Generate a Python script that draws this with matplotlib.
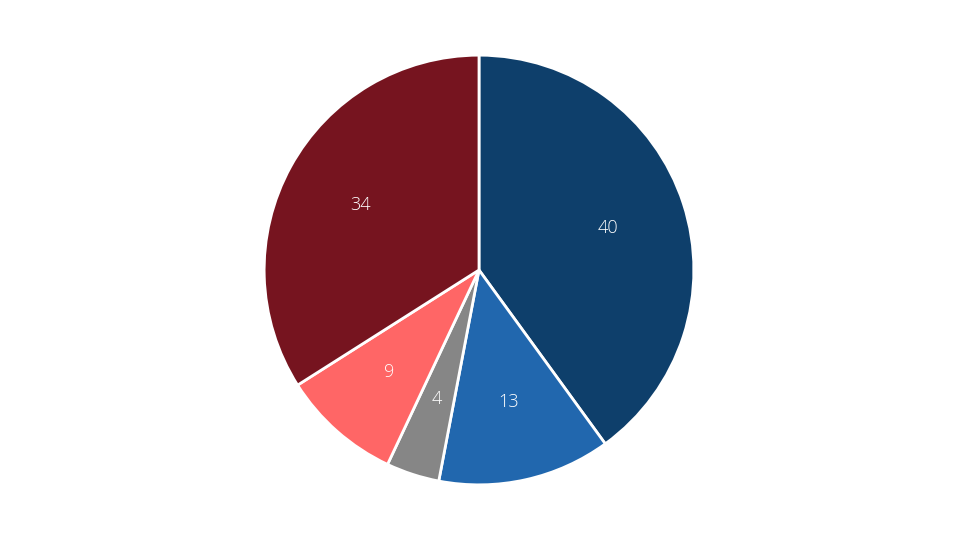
import matplotlib.pyplot as plt

values = [40, 13, 4, 9, 34]
labels = ["40", "13", "4", "9", "34"]
colors = ["#0e3f6b", "#2167ae", "#868686", "#ff6666", "#76141f"]

fig = plt.figure(figsize=(9.6, 5.4), dpi=100)
ax = fig.add_axes([(479 - 217) / 960, (270 - 217) / 540, 434 / 960, 434 / 540])
wedges, texts = ax.pie(values, colors=colors, startangle=90, counterclock=False,
                       labels=labels, labeldistance=0.63,
                       wedgeprops=dict(edgecolor="white", linewidth=2),
                       textprops=dict(color="white", fontsize=13,
                                      family="Open Sans", fontweight="light"))
for t in texts:
    t.set_ha("center")
    t.set_va("center")
ax.set_xlim(-1.01, 1.01)
ax.set_ylim(-1.01, 1.01)
ax.set_aspect("equal")
fig.savefig("out.png", dpi=100)
